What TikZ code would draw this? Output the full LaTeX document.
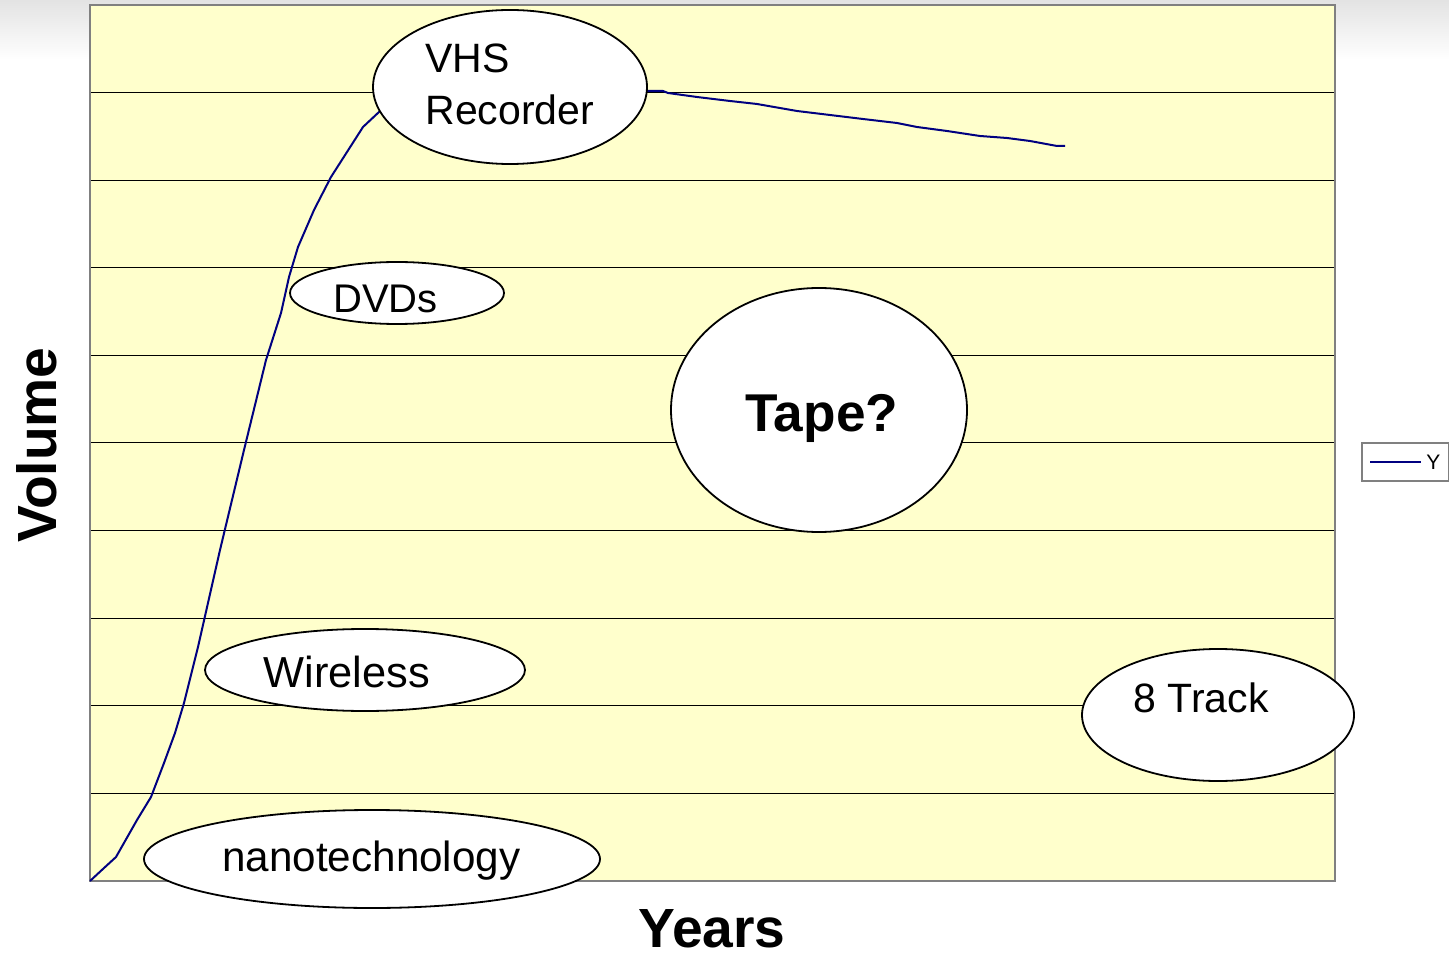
\documentclass[tikz,border=0pt]{standalone}
\usepackage{fontspec}
\setmainfont{Liberation Sans}
\definecolor{chartbg}{HTML}{FFFFCC}
\definecolor{curveblue}{HTML}{000080}
\definecolor{framegray}{HTML}{808080}
\begin{document}
\begin{tikzpicture}[x=0.5pt,y=-0.5pt]
\tikzstyle{every node}+=[inner sep=0pt]
\tikzstyle{bubble}=[draw=black, fill=white, line width=0.9pt]
\tikzstyle{tag}=[anchor=base west, font=\fontsize{20.5}{25}\selectfont]
\tikzstyle{axistitle}=[font=\bfseries\fontsize{27.6}{30}\selectfont]
\useasboundingbox (0,0) rectangle (1449,956);
\shade[top color=gray!22, bottom color=white] (0,0) rectangle (1449,60);
% plot area
\fill[chartbg] (90,5) rectangle (1335,881);
\foreach \k in {1,...,9}
  \draw[black, line width=0.5pt] (90,{5+87.6*\k}) -- (1335,{5+87.6*\k});
\draw[framegray, line width=1pt] (90,5) rectangle (1335,881);
% volume curve
\draw[curveblue, line width=1pt, line join=round] (90,881) -- (104,868) -- (116,857)
  -- (137,820) -- (151,797) -- (164,763) -- (175,733) -- (184,703) -- (198,647)
  -- (220,550) -- (244,450) -- (266,360) -- (281,313) -- (289,277) -- (298,247)
  -- (314,210) -- (331,177) -- (363,127) -- (379,112) -- (420,92) -- (648,91)
  -- (663,91) -- (668,93) -- (697,97) -- (730,101) -- (757,104) -- (797,111)
  -- (830,115) -- (863,119) -- (897,123) -- (917,127) -- (947,131) -- (980,136)
  -- (1007,138) -- (1030,141) -- (1057,146) -- (1065,146);
% bubbles
\draw[bubble] (510,87) ellipse (137 and 77);
\draw (425,73) node[tag] (vhs) {VHS};
\draw (425,125) node[tag] (recorder) {Recorder};
\draw[bubble] (397,293) ellipse (107 and 31);
\draw (333,313) node[tag, font=\fontsize{20}{25}\selectfont] (dvds) {DVDs};
\draw[bubble] (819,410) ellipse (148 and 122);
\draw (745,431) node[tag, font=\bfseries\fontsize{26.6}{30}\selectfont] (tape) {Tape?};
\draw[bubble] (365,670) ellipse (160 and 41);
\draw (263,687) node[tag, font=\fontsize{21.7}{25}\selectfont] (wireless) {Wireless};
\draw[bubble] (1218,715) ellipse (136 and 66);
\draw (1133,712) node[tag] (track) {8 Track};
\draw[bubble] (372,859) ellipse (228 and 49);
\draw (222,871) node[tag, font=\fontsize{21.1}{25}\selectfont] (nano) {nanotechnology};
% axis titles
\draw (37,445) node[axistitle, rotate=90] (volume) {Volume};
\draw (712,929) node[axistitle] (years) {Years};
% legend
\draw[framegray, fill=white, line width=0.7pt] (1362,443) rectangle (1449,481);
\draw[curveblue, line width=1pt] (1370,462) -- (1421,462);
\draw (1426,462) node[anchor=west, font=\fontsize{10.5}{12}\selectfont] (ykey) {Y};
\end{tikzpicture}
\end{document}
